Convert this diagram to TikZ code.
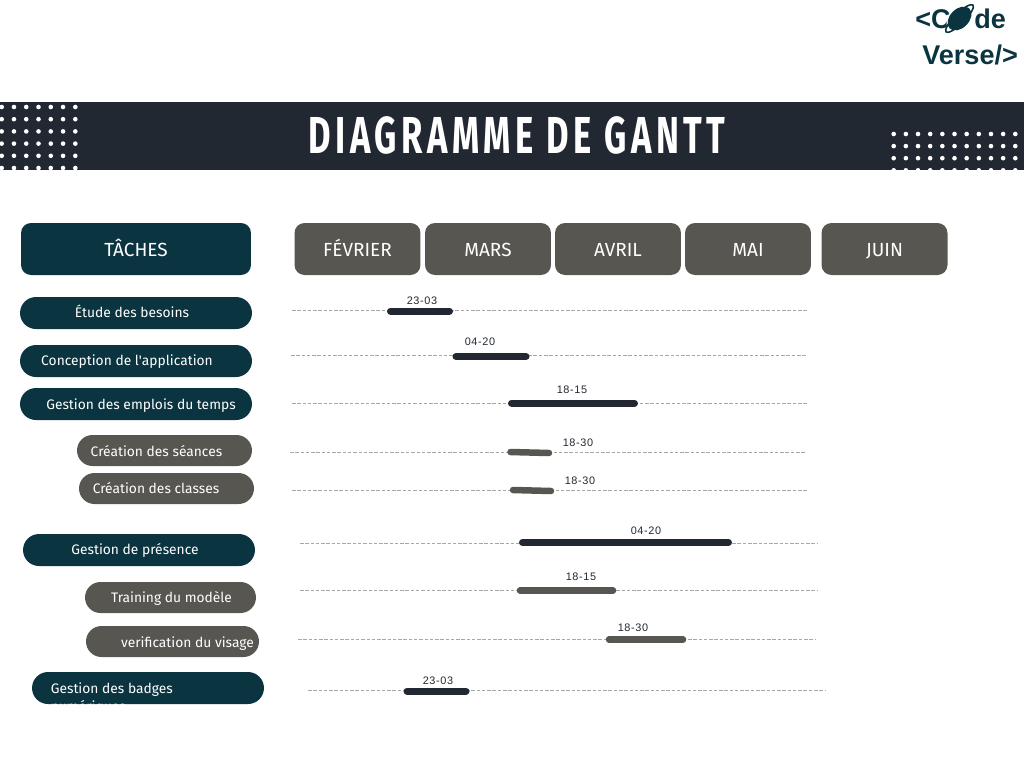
\documentclass[tikz,border=0pt]{standalone}
\usepackage{fontspec}
\setmainfont{Fira Sans}
\newfontfamily\titlefont{Fira Sans}[LetterSpace=13]
\newfontfamily\logofont{Liberation Sans}
\newfontfamily\datefont{Liberation Sans}[LetterSpace=6]
\usetikzlibrary{shapes.misc,shapes.geometric}

\definecolor{teal}{HTML}{0B3441}
\definecolor{taupe}{HTML}{575651}
\definecolor{nuit}{HTML}{222831}

\begin{document}
\begin{tikzpicture}[
        x=0.02cm, y=-0.02cm,
        pillteal/.style={rounded rectangle, fill=teal, minimum height=0.64cm, inner sep=0pt},
        pilltaupe/.style={rounded rectangle, fill=taupe, minimum height=0.62cm, inner sep=0pt},
        pilltext/.style={text=white, font=\fontsize{7.85}{9}\selectfont, inner sep=0pt, text height=6.4pt, text depth=1.2pt},
        headteal/.style={rectangle, rounded corners=0.2cm, fill=teal, text=white, minimum height=1.04cm, text height=8pt, text depth=0pt, font=\fontsize{10.8}{12}\selectfont},
        month/.style={headteal, fill=taupe, minimum width=2.52cm},
        gridline/.style={draw=black!35, dash pattern=on 2pt off 1pt, line width=0.5pt},
        bardark/.style={draw=nuit, line width=0.14cm, line cap=round},
        bargrey/.style={draw=taupe, line width=0.13cm, line cap=round},
        datelabel/.style={text=nuit, font=\datefont\fontsize{6.2}{8}\selectfont, inner sep=0pt, text height=4.6pt, text depth=0pt},
        logotext/.style={text=teal, font=\logofont\bfseries\fontsize{15.4}{18}\selectfont, inner sep=0pt, text height=11pt, text depth=0pt}
        ]
        \useasboundingbox (0,0) rectangle (1024,768);

        % bandeau
        \fill[nuit] (0,102) rectangle (1024,170);
        \begin{scope}
            \clip (0,102) rectangle (1024,170);
            \foreach \i in {0,...,6}
                \foreach \j in {0,...,5}
                    \fill[white] (1.7+12.27*\i,107+12.2*\j) circle (2.3);
            \foreach \i in {0,...,10}
                \foreach \j in {0,...,3}
                    \fill[white] (893.7+12.16*\i,134+12.1*\j) circle (2.3);
        \end{scope}
        \node[text=white, font=\titlefont\bfseries\fontsize{29.6}{32}\selectfont, inner sep=0pt] (titre) at (517,135) {\scalebox{.665}[1]{DIAGRAMME DE GANTT}};

        % logo
        \node[logotext, anchor=west] (logoC) at (915,18.5) {<C};
        \node[logotext, anchor=west] (logoD) at (974,18.5) {de};
        \node[logotext, anchor=west] (logoV) at (922,54.5) {Verse/>};
        \node[ellipse, fill=white, minimum width=0.6cm, minimum height=0.44cm, inner sep=0pt, rotate=45] (halo) at (959.5,18.5) {};
        \node[ellipse, fill=teal, minimum width=0.56cm, minimum height=0.38cm, inner sep=0pt, rotate=45] (planete) at (959.5,18.5) {};
        \draw[teal, line width=0.9pt, rotate around={45:(959.5,18.5)}] (959.5,18.5) ellipse (19 and 5);

        % en-tetes
        \node[headteal, minimum width=4.6cm] (taches) at (136,249) {TÂCHES};
        \node[month] (fevrier) at (357.5,249) {FÉVRIER};
        \node[month] (mars) at (488,249) {MARS};
        \node[month] (avril) at (618,249) {AVRIL};
        \node[month] (mai) at (748,249) {MAI};
        \node[month] (juin) at (884.5,249) {JUIN};

        % taches
        \node[pillteal, minimum width=4.64cm] (etude) at (136,313) {};
        \node[pilltext] (etudeT) at (132,312.5) {Étude des besoins};
        \node[pillteal, minimum width=4.64cm] (concep) at (136,361) {};
        \node[pilltext] (concepT) at (127,360.5) {Conception de l\textquotesingle application};
        \node[pillteal, minimum width=4.64cm] (emplois) at (136,404) {};
        \node[pilltext] (emploisT) at (141,404.5) {Gestion des emplois du temps};
        \node[pilltaupe, minimum width=3.5cm] (seances) at (164.5,450.5) {};
        \node[pilltext] (seancesT) at (156.5,451.5) {Création des séances};
        \node[pilltaupe, minimum width=3.5cm] (classes) at (166.5,488.5) {};
        \node[pilltext] (classesT) at (156,488.5) {Création des classes};
        \node[pillteal, minimum width=4.64cm] (presence) at (139,550) {};
        \node[pilltext] (presenceT) at (135,549.5) {Gestion de présence};
        \node[pilltaupe, minimum width=3.42cm] (training) at (170.5,597.5) {};
        \node[pilltext] (trainingT) at (171.5,597.5) {Training du modèle};
        \node[pilltaupe, minimum width=3.46cm] (verif) at (172.5,641.5) {};
        \node[pilltext] (verifT) at (187.5,642.5) {verification du visage};
        \node[pillteal, minimum width=4.64cm] (badges) at (148,688) {};
        \begin{scope}
            \clip (0,660) rectangle (300,707);
            \node[pilltext, anchor=north west, align=left, text height=, text depth=, font=\fontsize{7.85}{10.2}\selectfont] (badgesT) at (50.5,682.5) {Gestion des badges\\numériques};
        \end{scope}

        % lignes
        \coordinate (a1) at (292,310); \coordinate (b1) at (808,310);
        \coordinate (a2) at (291,355); \coordinate (b2) at (807,355);
        \coordinate (a3) at (292,403); \coordinate (b3) at (808,403);
        \coordinate (a4) at (290,452); \coordinate (b4) at (806,452);
        \coordinate (a5) at (292,490); \coordinate (b5) at (808,490);
        \coordinate (a6) at (300,543); \coordinate (b6) at (817,543);
        \coordinate (a7) at (300,590); \coordinate (b7) at (818,590);
        \coordinate (a8) at (298,639); \coordinate (b8) at (816,639);
        \coordinate (a9) at (308,690); \coordinate (b9) at (826,690);
        \foreach \r in {1,...,9}
            \draw[gridline] (a\r) -- (b\r);

        % barres
        \draw[bardark] (390.5,311) -- (449.5,311);
        \draw[bardark] (456,356.5) -- (526,356.5);
        \draw[bardark] (511.5,403) -- (634.5,403);
        \draw[bargrey] (510.5,452) -- (549,453);
        \draw[bargrey] (513,490) -- (551,491);
        \draw[bardark] (522.5,542.5) -- (728.5,542.5);
        \draw[bargrey] (520,590.5) -- (613,590.5);
        \draw[bargrey] (609,639.5) -- (683,639.5);
        \draw[bardark] (407,691) -- (466,691);

        % dates
        \node[datelabel] (d1) at (422,300) {23-03};
        \node[datelabel] (d2) at (480,341) {04-20};
        \node[datelabel] (d3) at (572,389) {18-15};
        \node[datelabel] (d4) at (578,442) {18-30};
        \node[datelabel] (d5) at (580,480) {18-30};
        \node[datelabel] (d6) at (646,530) {04-20};
        \node[datelabel] (d7) at (581,576) {18-15};
        \node[datelabel] (d8) at (633,627) {18-30};
        \node[datelabel] (d9) at (438,680) {23-03};
    \end{tikzpicture}
\end{document}
